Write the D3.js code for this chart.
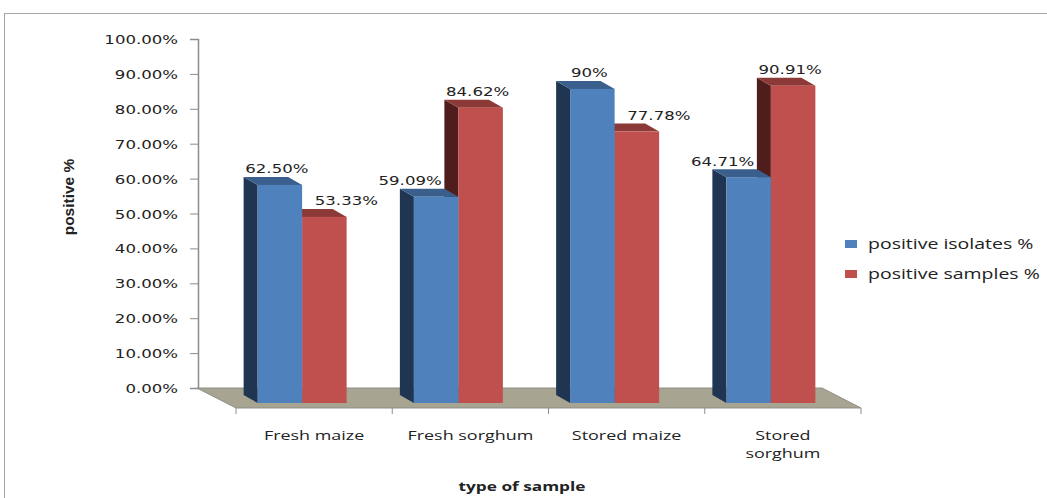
<!DOCTYPE html>
<html>
<head>
<meta charset="utf-8">
<script src="https://cdn.jsdelivr.net/npm/d3@7"></script>
<style>
  html, body { margin: 0; padding: 0; background: #fff; }
  svg { display: block; }
  text { font-family: "Open Sans", sans-serif; fill: #222; }
</style>
</head>
<body>
<svg id="chart" width="1047" height="498"></svg>
<script>
// data
const categories = ["Fresh maize", "Fresh sorghum", "Stored maize", "Stored sorghum"];
const series = ["positive isolates %", "positive samples %"];
const isolates = [62.50, 59.09, 90, 64.71];
const samples = [53.33, 84.62, 77.78, 90.91];
const yTicks = [0, 10, 20, 30, 40, 50, 60, 70, 80, 90, 100];

const colors = [
  { front: "#4f81bd", side: "#1f3551", top: "#3a5f8d" },
  { front: "#c0504d", side: "#4f1e1c", top: "#8c3a37" }
];

const svg = d3.select("#chart");
const S = 1.38; // the picture is stretched sideways

// wall / floor geometry
const wallL = 197, wallR = 822, baseY = 388, topY = 39;
const floorD = [39, 20];     // floor depth
const frontD = [27, 15];     // bar front face offset from wall
const backD = [13, 7];       // bar back face offset from wall
const barW = 44.5;

const x = d3.scaleBand().domain(categories).range([wallL, wallR]);
const xs = d3.scaleBand().domain(series).range([0, barW * 2]);
const y = d3.scaleLinear().domain([0, 100]).range([baseY, topY]);

function stretched(sel, tx, ty, s = S) {
  return sel.attr("x", 0).attr("y", 0)
    .attr("transform", `translate(${tx},${ty}) scale(${s},1)`);
}

// outer border
svg.append("rect")
  .attr("x", 4.5).attr("y", 13.5)
  .attr("width", 1100).attr("height", 520)
  .attr("fill", "none").attr("stroke", "#a6a6a6");

// floor
svg.append("polygon")
  .attr("points", [
    [wallL, baseY], [wallR, baseY],
    [wallR + floorD[0], baseY + floorD[1]], [wallL + floorD[0], baseY + floorD[1]]
  ].join(" "))
  .attr("fill", "#a8a492")
  .attr("stroke", "#8e8e86")
  .attr("stroke-width", 1);

// category ticks on front edge
const tickXs = categories.map(c => x(c)).concat([wallR]);
svg.append("g").selectAll("line")
  .data(tickXs)
  .join("line")
  .attr("x1", d => d + floorD[0]).attr("x2", d => d + floorD[0])
  .attr("y1", baseY + floorD[1]).attr("y2", baseY + floorD[1] + 6)
  .attr("stroke", "#8e8e8e");

// y axis
const yAxis = svg.append("g")
  .attr("transform", `translate(${wallL + 1},0)`)
  .call(d3.axisLeft(y).tickValues(yTicks).tickSize(8).tickFormat(d => d.toFixed(2) + "%"));
yAxis.select(".domain").attr("stroke", "#8c8c8c").attr("stroke-width", 1.5);
yAxis.selectAll(".tick line").attr("stroke", "#8c8c8c");
yAxis.selectAll(".tick text")
  .attr("dy", null)
  .style("font-family", "DejaVu Sans, sans-serif")
  .style("font-size", "12px")
  .attr("fill", "#333")
  .attr("text-anchor", "end")
  .each(function () { stretched(d3.select(this), -20, 4.5); });

// bars
const values = [isolates, samples];
const bars = [];
categories.forEach((c, i) => {
  series.forEach((s, j) => {
    bars.push({ cat: c, i, j, v: values[j][i] });
  });
});

const barG = svg.append("g");
// red first so blue faces overlap it
const order = bars.slice().sort((a, b) => a.i - b.i || b.j - a.j);
order.forEach(d => {
  const x0 = x(d.cat) + (x.bandwidth() - barW * 2) / 2 + xs(series[d.j]);
  const fl = x0 + frontD[0], fr = fl + barW;
  const ft = y(d.v) + frontD[1], fb = baseY + frontD[1];
  const bl = x0 + backD[0], br = bl + barW;
  const bt = y(d.v) + backD[1], bb = baseY + backD[1];
  const col = colors[d.j];
  const g = barG.append("g");
  g.append("polygon")
    .attr("points", [[bl, bt], [fl, ft], [fl, fb], [bl, bb]].join(" "))
    .attr("fill", col.side);
  g.append("polygon")
    .attr("points", [[bl, bt], [br, bt], [fr, ft], [fl, ft]].join(" "))
    .attr("fill", col.top);
  g.append("rect")
    .attr("x", fl).attr("y", ft)
    .attr("width", barW).attr("height", fb - ft)
    .attr("fill", col.front);
  d.cx = fl + barW / 2;
});

// data labels: the shorter bar of a pair has its label pushed away
const fmt = v => Number.isInteger(v) ? v + "%" : v.toFixed(2) + "%";
bars.forEach(d => {
  const other = values[1 - d.j][d.i];
  let dx = -3;
  if (d.v < other) dx = d.j === 0 ? -26 : 22;
  const t = svg.append("text")
    .text(fmt(d.v))
    .attr("text-anchor", "middle")
    .style("font-family", "DejaVu Sans, sans-serif")
    .style("font-size", "12px")
    .attr("fill", "#222");
  stretched(t, d.cx + dx, y(d.v) + 3.5);
});

// category labels
categories.forEach(c => {
  const cx = x(c) + x.bandwidth() / 2 + floorD[0];
  const t = svg.append("text")
    .text(c)
    .attr("text-anchor", "middle")
    .style("font-size", "13px");
  stretched(t, cx, 440);
  if (t.node().getComputedTextLength() * S > 132) {
    const words = c.split(" ");
    t.text(words[0]);
    const t2 = svg.append("text")
      .text(words.slice(1).join(" "))
      .attr("text-anchor", "middle")
      .style("font-size", "13px");
    stretched(t2, cx, 458);
  }
});

// axis titles
const xt = svg.append("text")
  .text("type of sample")
  .attr("text-anchor", "middle")
  .style("font-size", "12.5px")
  .style("font-weight", "bold");
stretched(xt, 522, 491);

svg.append("text")
  .text("positive %")
  .attr("text-anchor", "middle")
  .attr("transform", "translate(74,197) rotate(-90)")
  .style("font-family", "Liberation Sans, sans-serif")
  .style("font-size", "15.5px")
  .style("font-weight", "bold");

// legend
const leg = svg.append("g");
series.forEach((s, j) => {
  const ly = 244 + j * 30;
  leg.append("rect")
    .attr("x", 845).attr("y", ly - 4)
    .attr("width", 12).attr("height", 8)
    .attr("fill", colors[j].front);
  const t = leg.append("text")
    .text(s)
    .style("font-size", "15px");
  stretched(t, 868, ly + 5, 1.3);
});
</script>
</body>
</html>
